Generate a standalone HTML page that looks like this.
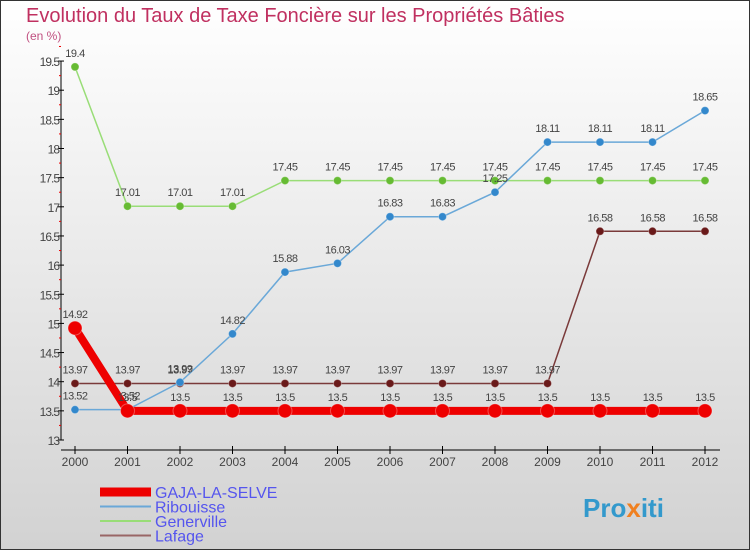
<!DOCTYPE html>
<html><head><meta charset="utf-8"><style>
body{margin:0}
#c{width:750px;height:550px;position:relative;font-family:"Liberation Sans",sans-serif}
</style></head><body>
<div id="c">
<svg id="s" width="750" height="550" xmlns="http://www.w3.org/2000/svg">
<defs><linearGradient id="bg" x1="0" y1="0" x2="0" y2="1"><stop offset="0" stop-color="#ffffff"/><stop offset="1" stop-color="#d2d2d2"/></linearGradient></defs>
<rect x="0.5" y="0.5" width="749" height="549" fill="url(#bg)" stroke="#333"/>
<text x="26" y="22" font-size="20" fill="#c03060">Evolution du Taux de Taxe Foncière sur les Propriétés Bâties</text>
<text x="26" y="40" font-size="12" fill="#c05080">(en %)</text>
<g id="axes"></g><g id="series"></g><g id="legend"></g>
<text x="583" y="517" font-size="26" font-weight="bold" fill="#3399cc">Pro<tspan fill="#f08020">x</tspan>iti</text>
</svg></div>
<script>
const years=[2000,2001,2002,2003,2004,2005,2006,2007,2008,2009,2010,2011,2012];
const yTicks=[13,13.5,14,14.5,15,15.5,16,16.5,17,17.5,18,18.5,19,19.5];
const gaja=[14.92,13.5,13.5,13.5,13.5,13.5,13.5,13.5,13.5,13.5,13.5,13.5,13.5];
const ribouisse=[13.52,13.52,13.99,14.82,15.88,16.03,16.83,16.83,17.25,18.11,18.11,18.11,18.65];
const generville=[19.4,17.01,17.01,17.01,17.45,17.45,17.45,17.45,17.45,17.45,17.45,17.45,17.45];
const lafage=[13.97,13.97,13.97,13.97,13.97,13.97,13.97,13.97,13.97,13.97,16.58,16.58,16.58];
const names=["GAJA-LA-SELVE","Ribouisse","Generville","Lafage"];
const NS="http://www.w3.org/2000/svg";
const x=i=>75+i*52.5;
const y=v=>440-(v-13)*58.3;
function mk(tag,attrs,parent){const e=document.createElementNS(NS,tag);for(const k in attrs)e.setAttribute(k,attrs[k]);parent.appendChild(e);return e;}
const ax=document.getElementById('axes');
const yl=mk('line',{x1:61,y1:y(19.5),x2:61,y2:y(13),stroke:'#000'},ax);


yTicks.forEach(t=>{
 mk('line',{x1:58,x2:64,y1:y(t),y2:y(t),stroke:'#000'},ax);
 mk('line',{x1:59,x2:61,y1:y(t+0.25),y2:y(t+0.25),stroke:'#e00'},ax);
 const tx=mk('text',{x:59,y:y(t)+5,'text-anchor':'end','font-size':12,fill:'#444','letter-spacing':'-1'},ax);
 tx.textContent=String(t);
 
 
});
const xl=mk('line',{x1:61,y1:450,x2:720,y2:450,stroke:'#000'},ax);


years.forEach((yr,i)=>{
 mk('line',{x1:x(i),x2:x(i),y1:446,y2:454,stroke:'#000'},ax);
 const tx=mk('text',{x:x(i),y:466,'text-anchor':'middle','font-size':12,fill:'#444'},ax);
 tx.textContent=yr;
 
 
});
const sg=document.getElementById('series');
function draw(vals,color,w,r,name,dotFill){
 const g=mk('g',{},sg);
 
 
 mk('polyline',{points:vals.map((v,i)=>x(i)+','+y(v)).join(' '),fill:'none',stroke:color,'stroke-width':w},g);
 vals.forEach((v,i)=>{
  const c=mk('circle',{cx:x(i),cy:y(v),r:r,fill:dotFill,stroke:'#fff','stroke-opacity':0.3},g);
  
  
  const t=mk('text',{x:x(i),y:y(v)-10,'text-anchor':'middle','font-size':11,fill:'#444','letter-spacing':'-0.5'},g);
  t.textContent=String(v);
  
  
 });
}
draw(lafage,'#7a3a3a',1.5,4,'lafage','#6a1a1a');
draw(generville,'#99dd77',1.5,4,'generville','#66bb33');
draw(ribouisse,'#6aa8d8',1.5,4,'ribouisse','#3388cc');
draw(gaja,'#ee0000',8,7,'gaja-la-selve','#ee0000');
const lg=document.getElementById('legend');
const lc=['#ee0000','#6aa8d8','#99dd77','#996666'],lw=[9,2,2,2];
names.forEach((n,i)=>{
 const yy=492+i*14.5;
 const g=mk('g',{},lg);
 
 
 mk('line',{x1:100,x2:151,y1:yy,y2:yy,stroke:lc[i],'stroke-width':lw[i]},g);
 const t=mk('text',{x:155,y:yy+6,'font-size':16,fill:'#5555ee'},g);
 t.textContent=n;
});
</script>
</body></html>
